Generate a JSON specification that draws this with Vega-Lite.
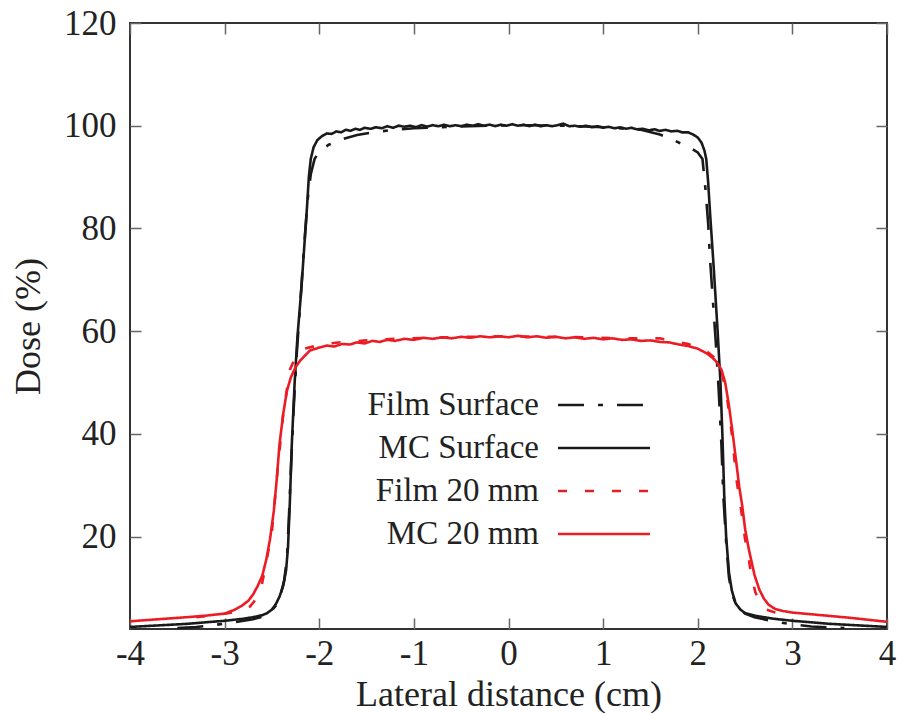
{
  "$schema": "https://vega.github.io/schema/vega-lite/v6.json",
  "autosize": {"type": "none"},
  "width": 757,
  "height": 606,
  "padding": {"left": 130, "top": 23, "right": 16, "bottom": 84},
  "background": "white",
  "config": {
    "font": "Liberation Serif",
    "view": {"stroke": "#333", "strokeWidth": 2},
    "axis": {
      "grid": false, "domain": false,
      "tickColor": "#666", "tickWidth": 1.5, "tickSize": -11,
      "labelFont": "Liberation Serif", "labelFontSize": 35, "labelColor": "#222",
      "titleFont": "Liberation Serif", "titleFontSize": 36, "titleFontWeight": "normal", "titleColor": "#222"
    },
    "legend": {
      "orient": "none", "legendX": 457, "legendY": 365,
      "symbolType": "M-3,0L3,0", "symbolSize": 940, "symbolStrokeWidth": 2.4,
      "labelAlign": "right", "labelOffset": -82, "labelFontSize": 33,
      "labelFont": "Liberation Serif", "labelColor": "#222", "labelLimit": 400,
      "rowPadding": 9
    }
  },
  "data": {"values": [
    {"s":"Film Surface","x":-3.5,"y":2.2},{"s":"Film Surface","x":-3.3,"y":2.4},{"s":"Film Surface","x":-3.1,"y":2.8},{"s":"Film Surface","x":-2.9,"y":3.3},{"s":"Film Surface","x":-2.7,"y":3.9},{"s":"Film Surface","x":-2.6,"y":4.4},{"s":"Film Surface","x":-2.52,"y":5.2},{"s":"Film Surface","x":-2.46,"y":6.5},{"s":"Film Surface","x":-2.41,"y":8.5},{"s":"Film Surface","x":-2.37,"y":11.5},{"s":"Film Surface","x":-2.34,"y":16},{"s":"Film Surface","x":-2.32,"y":24},{"s":"Film Surface","x":-2.3,"y":33},{"s":"Film Surface","x":-2.27,"y":45},{"s":"Film Surface","x":-2.24,"y":55},{"s":"Film Surface","x":-2.21,"y":63},{"s":"Film Surface","x":-2.18,"y":71},{"s":"Film Surface","x":-2.15,"y":79},{"s":"Film Surface","x":-2.12,"y":86},{"s":"Film Surface","x":-2.09,"y":90.5},{"s":"Film Surface","x":-2.05,"y":93.5},{"s":"Film Surface","x":-2.0,"y":95.0},{"s":"Film Surface","x":-1.9,"y":96.3},{"s":"Film Surface","x":-1.75,"y":97.4},{"s":"Film Surface","x":-1.6,"y":98.2},{"s":"Film Surface","x":-1.4,"y":98.8},{"s":"Film Surface","x":-1.2,"y":99.2},{"s":"Film Surface","x":-1.0,"y":99.5},{"s":"Film Surface","x":-0.6,"y":99.8},{"s":"Film Surface","x":-0.2,"y":100.0},{"s":"Film Surface","x":0.2,"y":100.1},{"s":"Film Surface","x":0.6,"y":100.0},{"s":"Film Surface","x":1.0,"y":99.7},{"s":"Film Surface","x":1.4,"y":99.2},{"s":"Film Surface","x":1.6,"y":98.3},{"s":"Film Surface","x":1.73,"y":97.3},{"s":"Film Surface","x":1.9,"y":95.9},{"s":"Film Surface","x":2.0,"y":94.8},{"s":"Film Surface","x":2.05,"y":93.5},{"s":"Film Surface","x":2.08,"y":88},{"s":"Film Surface","x":2.11,"y":81},{"s":"Film Surface","x":2.13,"y":74},{"s":"Film Surface","x":2.16,"y":66},{"s":"Film Surface","x":2.19,"y":58},{"s":"Film Surface","x":2.22,"y":49},{"s":"Film Surface","x":2.25,"y":38},{"s":"Film Surface","x":2.27,"y":28},{"s":"Film Surface","x":2.3,"y":19},{"s":"Film Surface","x":2.33,"y":12},{"s":"Film Surface","x":2.36,"y":9},{"s":"Film Surface","x":2.4,"y":7},{"s":"Film Surface","x":2.45,"y":5.8},{"s":"Film Surface","x":2.5,"y":5.0},{"s":"Film Surface","x":2.6,"y":4.3},{"s":"Film Surface","x":2.8,"y":3.5},{"s":"Film Surface","x":3.0,"y":2.9},{"s":"Film Surface","x":3.2,"y":2.5},{"s":"Film Surface","x":3.4,"y":2.3},{"s":"Film Surface","x":3.55,"y":2.2},

    {"s":"MC Surface","x":-4.0,"y":2.4},{"s":"MC Surface","x":-3.8,"y":2.6},{"s":"MC Surface","x":-3.6,"y":2.8},{"s":"MC Surface","x":-3.4,"y":3.0},{"s":"MC Surface","x":-3.2,"y":3.3},{"s":"MC Surface","x":-3.0,"y":3.6},{"s":"MC Surface","x":-2.9,"y":3.8},{"s":"MC Surface","x":-2.8,"y":4.0},{"s":"MC Surface","x":-2.7,"y":4.3},{"s":"MC Surface","x":-2.6,"y":4.7},{"s":"MC Surface","x":-2.55,"y":5.1},{"s":"MC Surface","x":-2.5,"y":5.8},{"s":"MC Surface","x":-2.46,"y":6.8},{"s":"MC Surface","x":-2.42,"y":8.3},{"s":"MC Surface","x":-2.38,"y":10.5},{"s":"MC Surface","x":-2.35,"y":13.5},{"s":"MC Surface","x":-2.33,"y":18},{"s":"MC Surface","x":-2.31,"y":27},{"s":"MC Surface","x":-2.29,"y":38},{"s":"MC Surface","x":-2.26,"y":50},{"s":"MC Surface","x":-2.23,"y":59},{"s":"MC Surface","x":-2.19,"y":68},{"s":"MC Surface","x":-2.16,"y":76},{"s":"MC Surface","x":-2.13,"y":84},{"s":"MC Surface","x":-2.11,"y":90},{"s":"MC Surface","x":-2.09,"y":93.5},{"s":"MC Surface","x":-2.06,"y":95.8},{"s":"MC Surface","x":-2.02,"y":97.2},{"s":"MC Surface","x":-1.97,"y":98.0},{"s":"MC Surface","x":-1.92,"y":98.5},{"s":"MC Surface","x":-1.87,"y":98.4},{"s":"MC Surface","x":-1.82,"y":98.9},{"s":"MC Surface","x":-1.77,"y":98.7},{"s":"MC Surface","x":-1.72,"y":99.2},{"s":"MC Surface","x":-1.67,"y":99.0},{"s":"MC Surface","x":-1.62,"y":99.4},{"s":"MC Surface","x":-1.57,"y":99.2},{"s":"MC Surface","x":-1.52,"y":99.6},{"s":"MC Surface","x":-1.46,"y":99.4},{"s":"MC Surface","x":-1.4,"y":99.7},{"s":"MC Surface","x":-1.34,"y":99.5},{"s":"MC Surface","x":-1.28,"y":99.9},{"s":"MC Surface","x":-1.22,"y":99.6},{"s":"MC Surface","x":-1.16,"y":100.0},{"s":"MC Surface","x":-1.1,"y":99.8},{"s":"MC Surface","x":-1.04,"y":100.0},{"s":"MC Surface","x":-0.98,"y":99.7},{"s":"MC Surface","x":-0.92,"y":100.1},{"s":"MC Surface","x":-0.86,"y":99.8},{"s":"MC Surface","x":-0.8,"y":100.1},{"s":"MC Surface","x":-0.74,"y":99.9},{"s":"MC Surface","x":-0.68,"y":100.2},{"s":"MC Surface","x":-0.62,"y":99.9},{"s":"MC Surface","x":-0.56,"y":100.1},{"s":"MC Surface","x":-0.5,"y":99.9},{"s":"MC Surface","x":-0.44,"y":100.2},{"s":"MC Surface","x":-0.38,"y":100.0},{"s":"MC Surface","x":-0.32,"y":100.3},{"s":"MC Surface","x":-0.26,"y":100.0},{"s":"MC Surface","x":-0.2,"y":100.2},{"s":"MC Surface","x":-0.14,"y":99.9},{"s":"MC Surface","x":-0.08,"y":100.2},{"s":"MC Surface","x":-0.02,"y":100.0},{"s":"MC Surface","x":0.04,"y":100.3},{"s":"MC Surface","x":0.1,"y":100.0},{"s":"MC Surface","x":0.16,"y":100.2},{"s":"MC Surface","x":0.22,"y":99.9},{"s":"MC Surface","x":0.28,"y":100.2},{"s":"MC Surface","x":0.34,"y":99.9},{"s":"MC Surface","x":0.4,"y":100.1},{"s":"MC Surface","x":0.46,"y":99.9},{"s":"MC Surface","x":0.52,"y":100.1},{"s":"MC Surface","x":0.58,"y":100.4},{"s":"MC Surface","x":0.64,"y":99.9},{"s":"MC Surface","x":0.7,"y":100.0},{"s":"MC Surface","x":0.76,"y":99.8},{"s":"MC Surface","x":0.82,"y":100.0},{"s":"MC Surface","x":0.88,"y":99.7},{"s":"MC Surface","x":0.94,"y":99.9},{"s":"MC Surface","x":1.0,"y":99.6},{"s":"MC Surface","x":1.06,"y":99.8},{"s":"MC Surface","x":1.12,"y":99.5},{"s":"MC Surface","x":1.18,"y":99.7},{"s":"MC Surface","x":1.24,"y":99.4},{"s":"MC Surface","x":1.3,"y":99.6},{"s":"MC Surface","x":1.36,"y":99.3},{"s":"MC Surface","x":1.42,"y":99.4},{"s":"MC Surface","x":1.48,"y":99.1},{"s":"MC Surface","x":1.54,"y":99.3},{"s":"MC Surface","x":1.6,"y":99.0},{"s":"MC Surface","x":1.66,"y":99.2},{"s":"MC Surface","x":1.72,"y":98.9},{"s":"MC Surface","x":1.78,"y":99.0},{"s":"MC Surface","x":1.84,"y":98.7},{"s":"MC Surface","x":1.9,"y":98.7},{"s":"MC Surface","x":1.95,"y":98.3},{"s":"MC Surface","x":2.0,"y":97.7},{"s":"MC Surface","x":2.04,"y":96.7},{"s":"MC Surface","x":2.07,"y":95.2},{"s":"MC Surface","x":2.09,"y":93.5},{"s":"MC Surface","x":2.11,"y":89},{"s":"MC Surface","x":2.13,"y":83},{"s":"MC Surface","x":2.17,"y":72},{"s":"MC Surface","x":2.21,"y":60},{"s":"MC Surface","x":2.24,"y":50},{"s":"MC Surface","x":2.26,"y":40},{"s":"MC Surface","x":2.28,"y":28},{"s":"MC Surface","x":2.3,"y":20},{"s":"MC Surface","x":2.33,"y":13},{"s":"MC Surface","x":2.36,"y":9.5},{"s":"MC Surface","x":2.4,"y":7},{"s":"MC Surface","x":2.45,"y":5.8},{"s":"MC Surface","x":2.5,"y":5.1},{"s":"MC Surface","x":2.6,"y":4.6},{"s":"MC Surface","x":2.7,"y":4.3},{"s":"MC Surface","x":2.8,"y":4.0},{"s":"MC Surface","x":3.0,"y":3.6},{"s":"MC Surface","x":3.2,"y":3.3},{"s":"MC Surface","x":3.4,"y":3.0},{"s":"MC Surface","x":3.6,"y":2.8},{"s":"MC Surface","x":3.8,"y":2.6},{"s":"MC Surface","x":4.0,"y":2.4},

    {"s":"Film 20 mm","x":-3.3,"y":4.3},{"s":"Film 20 mm","x":-3.1,"y":4.7},{"s":"Film 20 mm","x":-2.95,"y":5.1},{"s":"Film 20 mm","x":-2.82,"y":5.6},{"s":"Film 20 mm","x":-2.73,"y":6.4},{"s":"Film 20 mm","x":-2.67,"y":7.8},{"s":"Film 20 mm","x":-2.61,"y":10.3},{"s":"Film 20 mm","x":-2.56,"y":15},{"s":"Film 20 mm","x":-2.5,"y":21},{"s":"Film 20 mm","x":-2.48,"y":25},{"s":"Film 20 mm","x":-2.44,"y":33},{"s":"Film 20 mm","x":-2.38,"y":44},{"s":"Film 20 mm","x":-2.31,"y":52.5},{"s":"Film 20 mm","x":-2.25,"y":55},{"s":"Film 20 mm","x":-2.15,"y":56.6},{"s":"Film 20 mm","x":-2.0,"y":57.3},{"s":"Film 20 mm","x":-1.8,"y":57.8},{"s":"Film 20 mm","x":-1.5,"y":58.2},{"s":"Film 20 mm","x":-1.2,"y":58.5},{"s":"Film 20 mm","x":-0.8,"y":58.7},{"s":"Film 20 mm","x":-0.4,"y":58.9},{"s":"Film 20 mm","x":0.0,"y":59.0},{"s":"Film 20 mm","x":0.4,"y":58.9},{"s":"Film 20 mm","x":0.8,"y":58.8},{"s":"Film 20 mm","x":1.2,"y":58.6},{"s":"Film 20 mm","x":1.6,"y":58.6},{"s":"Film 20 mm","x":1.9,"y":57.5},{"s":"Film 20 mm","x":2.1,"y":56.0},{"s":"Film 20 mm","x":2.2,"y":54.5},{"s":"Film 20 mm","x":2.26,"y":51.5},{"s":"Film 20 mm","x":2.31,"y":47},{"s":"Film 20 mm","x":2.36,"y":40},{"s":"Film 20 mm","x":2.41,"y":31},{"s":"Film 20 mm","x":2.46,"y":25},{"s":"Film 20 mm","x":2.5,"y":19.5},{"s":"Film 20 mm","x":2.54,"y":15.5},{"s":"Film 20 mm","x":2.57,"y":12},{"s":"Film 20 mm","x":2.61,"y":9.1},{"s":"Film 20 mm","x":2.66,"y":7.2},{"s":"Film 20 mm","x":2.72,"y":5.8},{"s":"Film 20 mm","x":2.8,"y":5.3},{"s":"Film 20 mm","x":2.9,"y":4.9},{"s":"Film 20 mm","x":3.0,"y":4.7},

    {"s":"MC 20 mm","x":-4.0,"y":3.5},{"s":"MC 20 mm","x":-3.7,"y":3.9},{"s":"MC 20 mm","x":-3.4,"y":4.3},{"s":"MC 20 mm","x":-3.2,"y":4.6},{"s":"MC 20 mm","x":-3.0,"y":5.0},{"s":"MC 20 mm","x":-2.9,"y":5.7},{"s":"MC 20 mm","x":-2.82,"y":6.5},{"s":"MC 20 mm","x":-2.75,"y":7.5},{"s":"MC 20 mm","x":-2.7,"y":8.7},{"s":"MC 20 mm","x":-2.65,"y":10.4},{"s":"MC 20 mm","x":-2.6,"y":12.5},{"s":"MC 20 mm","x":-2.56,"y":15.5},{"s":"MC 20 mm","x":-2.52,"y":19.5},{"s":"MC 20 mm","x":-2.48,"y":25},{"s":"MC 20 mm","x":-2.45,"y":31},{"s":"MC 20 mm","x":-2.42,"y":38},{"s":"MC 20 mm","x":-2.38,"y":44},{"s":"MC 20 mm","x":-2.34,"y":48.5},{"s":"MC 20 mm","x":-2.3,"y":51},{"s":"MC 20 mm","x":-2.25,"y":53},{"s":"MC 20 mm","x":-2.2,"y":54.3},{"s":"MC 20 mm","x":-2.1,"y":56.2},{"s":"MC 20 mm","x":-2.0,"y":56.8},{"s":"MC 20 mm","x":-1.92,"y":57.2},{"s":"MC 20 mm","x":-1.84,"y":57.0},{"s":"MC 20 mm","x":-1.76,"y":57.5},{"s":"MC 20 mm","x":-1.68,"y":57.4},{"s":"MC 20 mm","x":-1.6,"y":57.8},{"s":"MC 20 mm","x":-1.52,"y":57.6},{"s":"MC 20 mm","x":-1.44,"y":58.1},{"s":"MC 20 mm","x":-1.36,"y":57.9},{"s":"MC 20 mm","x":-1.28,"y":58.3},{"s":"MC 20 mm","x":-1.2,"y":58.1},{"s":"MC 20 mm","x":-1.1,"y":58.5},{"s":"MC 20 mm","x":-1.0,"y":58.3},{"s":"MC 20 mm","x":-0.9,"y":58.7},{"s":"MC 20 mm","x":-0.8,"y":58.5},{"s":"MC 20 mm","x":-0.7,"y":58.8},{"s":"MC 20 mm","x":-0.6,"y":58.6},{"s":"MC 20 mm","x":-0.5,"y":58.9},{"s":"MC 20 mm","x":-0.4,"y":58.7},{"s":"MC 20 mm","x":-0.3,"y":59.0},{"s":"MC 20 mm","x":-0.2,"y":58.8},{"s":"MC 20 mm","x":-0.1,"y":59.0},{"s":"MC 20 mm","x":0.0,"y":58.8},{"s":"MC 20 mm","x":0.1,"y":59.1},{"s":"MC 20 mm","x":0.2,"y":58.8},{"s":"MC 20 mm","x":0.3,"y":59.0},{"s":"MC 20 mm","x":0.4,"y":58.7},{"s":"MC 20 mm","x":0.5,"y":58.9},{"s":"MC 20 mm","x":0.6,"y":58.6},{"s":"MC 20 mm","x":0.7,"y":58.8},{"s":"MC 20 mm","x":0.8,"y":58.5},{"s":"MC 20 mm","x":0.9,"y":58.7},{"s":"MC 20 mm","x":1.0,"y":58.4},{"s":"MC 20 mm","x":1.1,"y":58.6},{"s":"MC 20 mm","x":1.2,"y":58.3},{"s":"MC 20 mm","x":1.3,"y":58.4},{"s":"MC 20 mm","x":1.4,"y":58.1},{"s":"MC 20 mm","x":1.5,"y":58.2},{"s":"MC 20 mm","x":1.6,"y":57.9},{"s":"MC 20 mm","x":1.7,"y":57.8},{"s":"MC 20 mm","x":1.8,"y":57.4},{"s":"MC 20 mm","x":1.9,"y":57.1},{"s":"MC 20 mm","x":2.0,"y":56.6},{"s":"MC 20 mm","x":2.1,"y":55.6},{"s":"MC 20 mm","x":2.15,"y":54.9},{"s":"MC 20 mm","x":2.2,"y":54.0},{"s":"MC 20 mm","x":2.25,"y":52.5},{"s":"MC 20 mm","x":2.29,"y":50},{"s":"MC 20 mm","x":2.33,"y":45.5},{"s":"MC 20 mm","x":2.37,"y":40},{"s":"MC 20 mm","x":2.41,"y":34},{"s":"MC 20 mm","x":2.44,"y":29.5},{"s":"MC 20 mm","x":2.47,"y":26},{"s":"MC 20 mm","x":2.5,"y":21.5},{"s":"MC 20 mm","x":2.54,"y":17.5},{"s":"MC 20 mm","x":2.6,"y":12.5},{"s":"MC 20 mm","x":2.65,"y":9.7},{"s":"MC 20 mm","x":2.7,"y":7.9},{"s":"MC 20 mm","x":2.75,"y":6.7},{"s":"MC 20 mm","x":2.82,"y":5.9},{"s":"MC 20 mm","x":2.9,"y":5.5},{"s":"MC 20 mm","x":3.0,"y":5.2},{"s":"MC 20 mm","x":3.3,"y":4.7},{"s":"MC 20 mm","x":3.6,"y":4.2},{"s":"MC 20 mm","x":3.8,"y":3.8},{"s":"MC 20 mm","x":4.0,"y":3.4}
  ]},
  "layer": [
    {
      "mark": {"type": "line", "strokeWidth": 2.6, "clip": true},
      "encoding": {
        "x": {"field": "x", "type": "quantitative", "scale": {"domain": [-4, 4], "nice": false, "zero": false},
              "axis": {"title": "Lateral distance (cm)", "values": [-4,-3,-2,-1,0,1,2,3,4], "labelPadding": 18, "titlePadding": 6, "labelFlush": false, "labelExpr": "datum.value + ''"}},
        "y": {"field": "y", "type": "quantitative", "scale": {"domain": [2, 120], "nice": false, "zero": false},
              "axis": {"title": "Dose (%)", "values": [20,40,60,80,100,120], "labelPadding": 25, "titlePadding": 16, "labelFlush": false}},
        "color": {"field": "s", "type": "nominal",
                  "scale": {"domain": ["Film Surface","MC Surface","Film 20 mm","MC 20 mm"], "range": ["#1a1a1a","#1a1a1a","#ec1c24","#ec1c24"]},
                  "legend": {"title": null}},
        "strokeDash": {"field": "s", "type": "nominal",
                  "scale": {"domain": ["Film Surface","MC Surface","Film 20 mm","MC 20 mm"], "range": [[26,14,5,14],[1,0],[9,18],[1,0]]},
                  "legend": {"title": null}},
        "order": {"field": "x", "type": "quantitative"}
      }
    },
    {
      "mark": {"type": "line", "strokeOpacity": 0},
      "encoding": {
        "x": {"field": "x", "type": "quantitative", "axis": {"orient": "top", "labels": false, "title": null, "values": [-4,-3,-2,-1,0,1,2,3,4]}},
        "y": {"field": "y", "type": "quantitative", "axis": {"orient": "right", "labels": false, "title": null, "values": [20,40,60,80,100,120]}},
        "detail": {"field": "s"}
      }
    }
  ],
  "resolve": {"axis": {"x": "independent", "y": "independent"}}
}
